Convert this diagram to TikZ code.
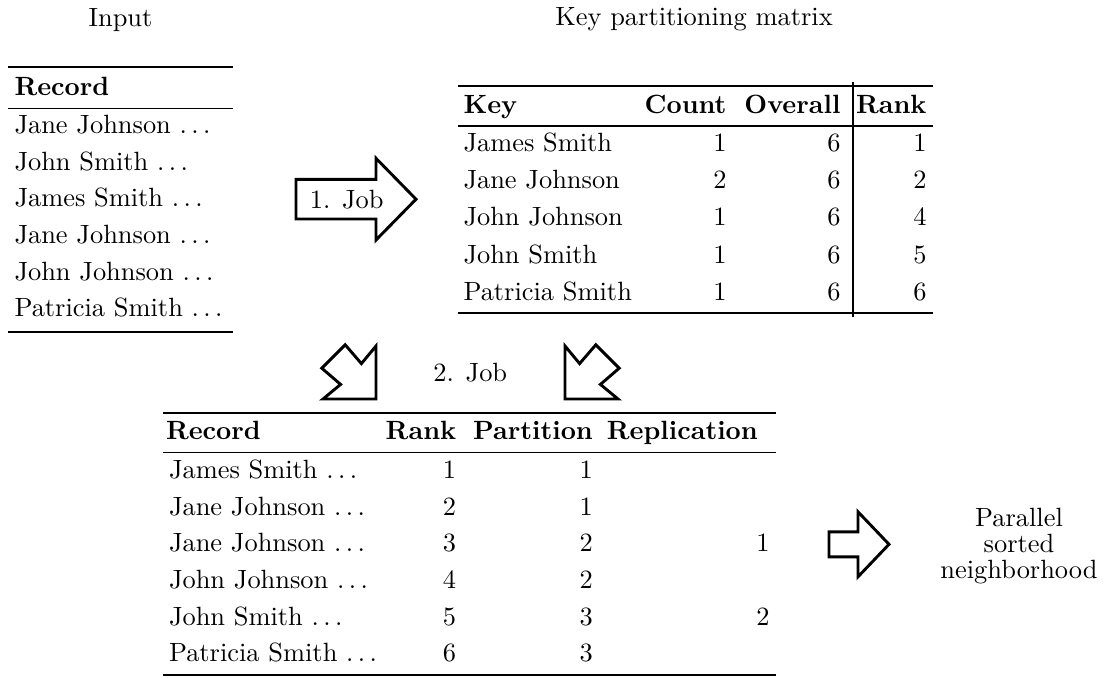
\documentclass[tikz,border=0pt]{standalone}
% spaced ellipsis after record names
\newcommand{\recdots}{.\kern\fontdimen3\font.\kern\fontdimen3\font.}
\begin{document}
\begin{tikzpicture}[x=0.3788pt,y=-0.3788pt,
  cell/.style={inner sep=0pt,anchor=base west},
  num/.style={inner sep=0pt,anchor=base east},
  label/.style={inner sep=0pt,anchor=base},
  head/.style={font=\bfseries},
  heavyrule/.style={line width=0.9pt},
  lightrule/.style={line width=0.55pt},
  bigarrow/.style={draw,line width=1.1pt,line join=miter,fill=white}]
\useasboundingbox (0,0) rectangle (1104,677);

% titles
\node[label] (inputtitle) at (120.5,26) {Input};
\node[label] (kpmtitle) at (694,25.5) {Key partitioning matrix};

% input records
\draw[heavyrule] (8.3,66.7) -- (232.7,66.7);
\node[cell,head] (inhead) at (14,95) {Record};
\draw[lightrule] (8.3,108.3) -- (232.7,108.3);
\foreach \t [count=\i] in {Jane Johnson,John Smith,James Smith,Jane Johnson,John Johnson,Patricia Smith}
  \node[cell] (in\i) at (14,{133.3+36.7*(\i-1)}) {\t\ \recdots};
\draw[heavyrule] (8.3,331.7) -- (232.7,331.7);

% key partitioning matrix
\draw[heavyrule] (458.3,85.7) -- (932.7,85.7);
\node[cell,head] (kkey) at (463,113.3) {Key};
\node[num,head] (kcount) at (727,113.3) {Count};
\node[num,head] (koverall) at (841,113.3) {Overall};
\node[num,head] (krank) at (927,113.3) {Rank};
\draw[lightrule] (458.3,126) -- (932.7,126);
\foreach \k/\c/\r [count=\i] in {James Smith/1/1,Jane Johnson/2/2,John Johnson/1/4,John Smith/1/5,Patricia Smith/1/6}{
  \node[cell] (k\i) at (463,{151.7+37.1*(\i-1)}) {\k};
  \node[num] (c\i) at (727,{151.7+37.1*(\i-1)}) {\c};
  \node[num] (o\i) at (841,{151.7+37.1*(\i-1)}) {6};
  \node[num] (r\i) at (927,{151.7+37.1*(\i-1)}) {\r};
}
\draw[heavyrule] (458.3,312.7) -- (932.7,312.7);
\draw[line width=0.8pt] (853.3,81.7) -- (853.3,316.7);

% ranked and partitioned records
\draw[heavyrule] (163.3,412.7) -- (776,412.7);
\node[cell,head] (brec) at (165.5,439.3) {Record};
\node[num,head] (brank) at (456.7,439.3) {Rank};
\node[num,head] (bpart) at (593.3,439.3) {Partition};
\node[num,head] (brepl) at (758.3,439.3) {Replication};
\draw[lightrule] (163.3,452.3) -- (776,452.3);
\foreach \t/\rk/\p [count=\i] in {James Smith/1/1,Jane Johnson/2/1,Jane Johnson/3/2,John Johnson/4/2,John Smith/5/3,Patricia Smith/6/3}{
  \node[cell] (b\i) at (168.5,{478.3+36.7*(\i-1)}) {\t\ \recdots};
  \node[num] (bk\i) at (456.7,{478.3+36.7*(\i-1)}) {\rk};
  \node[num] (bp\i) at (593.3,{478.3+36.7*(\i-1)}) {\p};
}
\node[num] (brep3) at (770,551.7) {1};
\node[num] (brep5) at (770,625.1) {2};
\draw[heavyrule] (163.3,675) -- (776,675);

% job arrows
\draw[bigarrow] (296,179.3) -- (376,179.3) -- (376,158.3) -- (416,199.2)
  -- (376,240) -- (376,219) -- (296,219) -- cycle;
\node[cell] (job1) at (309.3,208.3) {1. Job};

\draw[bigarrow] (345.2,344.8) -- (361.4,363.6) -- (376,346) -- (376,399)
  -- (323,399) -- (340.6,384.4) -- (321.8,368.2) -- cycle;
\draw[bigarrow] (595.8,344.8) -- (579.6,363.6) -- (565,346) -- (565,399)
  -- (618,399) -- (600.4,384.4) -- (619.2,368.2) -- cycle;
\node[label] (job2) at (470.3,381.7) {2. Job};

\draw[bigarrow] (829,531.8) -- (858,531.8) -- (858,511.8) -- (889,544.3)
  -- (858,576.8) -- (858,556.8) -- (829,556.8) -- cycle;
\node[label] (psn1) at (1019,526.7) {Parallel};
\node[label] (psn2) at (1019,552.7) {sorted};
\node[label] (psn3) at (1019,578.7) {neighborhood};
\end{tikzpicture}
\end{document}
